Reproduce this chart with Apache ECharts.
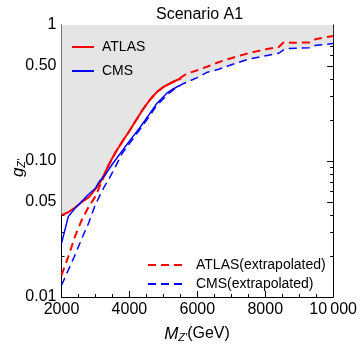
<!DOCTYPE html>
<html>
<head>
<meta charset="utf-8">
<script src="https://cdn.jsdelivr.net/npm/echarts@6/dist/echarts.min.js"></script>
<style>
  html, body { margin: 0; padding: 0; background: #fff; }
  #main { width: 360px; height: 349px; }
</style>
</head>
<body>
<div id="main"></div>
<script>
// ATLAS limit (solid)
var atlasX = [2000, 2200, 2400, 2600, 2800, 2950, 3100, 3200, 3400, 3600, 3800, 4000, 4200, 4400, 4600, 4800, 5000, 5200, 5400, 5530];
var atlasG = [0.040, 0.042, 0.0455, 0.050, 0.054, 0.060, 0.067, 0.074, 0.095, 0.117, 0.140, 0.166, 0.200, 0.240, 0.281, 0.320, 0.350, 0.372, 0.394, 0.405];
// CMS limit (solid)
var cmsX = [2000, 2200, 2400, 2550, 2800, 3000, 3100, 3300, 3500, 3800, 4100, 4300, 4500, 4600, 4800, 5100, 5300, 5480];
var cmsG = [0.0248, 0.039, 0.045, 0.049, 0.057, 0.063, 0.070, 0.080, 0.095, 0.120, 0.151, 0.175, 0.206, 0.223, 0.264, 0.315, 0.340, 0.360];
// ATLAS extrapolated (dashed)
var atlasExX = [2000, 2200, 2400, 2600, 2800, 3000, 3200, 3400, 3600, 3800, 4000, 4200, 4400, 4600, 4800, 5000, 5200, 5400, 5700, 6000, 6300, 6600, 6900, 7200, 7500, 7800, 8100, 8400, 8550, 8800, 9300, 9500, 10000];
var atlasExG = [0.0145, 0.0198, 0.028, 0.037, 0.046, 0.055, 0.072, 0.094, 0.117, 0.140, 0.166, 0.200, 0.240, 0.281, 0.320, 0.350, 0.372, 0.394, 0.440, 0.465, 0.495, 0.530, 0.560, 0.590, 0.620, 0.645, 0.670, 0.690, 0.750, 0.740, 0.745, 0.790, 0.830];
// CMS extrapolated (dashed)
var cmsExX = [2000, 2200, 2400, 2600, 2800, 3000, 3250, 3450, 3800, 4100, 4500, 4800, 5100, 5300, 5580, 6000, 6300, 6600, 6900, 7200, 7500, 7800, 8100, 8400, 8550, 8650, 9300, 9500, 10000];
var cmsExG = [0.0122, 0.0158, 0.0204, 0.027, 0.035, 0.048, 0.064, 0.078, 0.115, 0.145, 0.198, 0.255, 0.305, 0.335, 0.370, 0.410, 0.450, 0.470, 0.500, 0.530, 0.560, 0.580, 0.600, 0.620, 0.660, 0.670, 0.680, 0.710, 0.730];
// lower edge of the grey excluded region
var shadeX = [2000, 2200, 2350, 2550, 2800, 3000, 3200, 3400, 3600, 3800, 4000, 4200, 4400, 4600, 4800, 5000, 5200, 5400, 5580, 6000, 6300, 6600, 6900, 7200, 7500, 7800, 8100, 8400, 8550, 8650, 9300, 9500, 10000];
var shadeG = [0.040, 0.042, 0.044, 0.049, 0.057, 0.063, 0.075, 0.095, 0.117, 0.140, 0.166, 0.200, 0.240, 0.281, 0.320, 0.350, 0.372, 0.394, 0.370, 0.410, 0.450, 0.470, 0.500, 0.530, 0.560, 0.580, 0.600, 0.620, 0.660, 0.670, 0.680, 0.710, 0.730];

var yLabelVals = [0.01, 0.05, 0.1, 0.5, 1];
var yLabelText = ['0.01', '0.05', '0.10', '0.50', '1'];
var yMinorVals = [0.02, 0.03, 0.04, 0.06, 0.07, 0.08, 0.09, 0.2, 0.3, 0.4, 0.6, 0.7, 0.8, 0.9];

function pairs(xs, ys) {
  return xs.map(function (x, i) { return [x, ys[i]]; });
}

var font = 'Liberation Sans, Arial, sans-serif';
var myChart = echarts.init(document.getElementById('main'));

var frameLine = { show: true, lineStyle: { color: '#000', width: 1 } };

function yAx(pos, labels, ticks, len, line) {
  return {
    type: 'log', logBase: 10, min: 0.01, max: 1, position: pos,
    axisLine: line ? frameLine : { show: false },
    splitLine: { show: false },
    axisTick: { show: true, inside: true, length: len, customValues: ticks, lineStyle: { color: '#000' } },
    axisLabel: labels ? {
      show: true, customValues: yLabelVals, margin: 5, fontSize: 16, color: '#000', fontFamily: font,
      formatter: function (v) {
        for (var i = 0; i < yLabelVals.length; i++) {
          if (Math.abs(yLabelVals[i] - v) < 1e-9) return yLabelText[i];
        }
        return '';
      }
    } : { show: false }
  };
}

function xAx(pos, labels) {
  return {
    type: 'value', min: 2000, max: 10000, interval: 2000, position: pos,
    axisLine: frameLine,
    splitLine: { show: false },
    axisTick: { show: true, inside: true, length: 6, lineStyle: { color: '#000' } },
    minorTick: { show: true, splitNumber: 4, length: 3, lineStyle: { color: '#000' } },
    axisLabel: labels ? {
      show: true, margin: 5, fontSize: 16, color: '#000', fontFamily: font,
      formatter: function (v) { return v === 10000 ? '10\u2009000' : String(v); }
    } : { show: false }
  };
}

myChart.setOption({
  animation: false,
  backgroundColor: '#fff',
  title: {
    text: 'Scenario A1', left: 151, top: 2,
    textStyle: { fontSize: 16, fontWeight: 'normal', color: '#000', fontFamily: font }
  },
  grid: { left: 61.5, right: 26, top: 25, bottom: 52 },
  xAxis: [xAx('bottom', true), xAx('top', false)],
  yAxis: [
    yAx('left', true, yLabelVals, 6, true),
    yAx('left', false, yMinorVals, 3, false),
    yAx('right', false, yLabelVals, 6, true),
    yAx('right', false, yMinorVals, 3, false)
  ],
  legend: [
    {
      data: ['ATLAS', 'CMS'], orient: 'vertical', left: 66, top: 35,
      itemWidth: 22, itemHeight: 12, itemGap: 10,
      itemStyle: { opacity: 0 },
      textStyle: { fontSize: 14, color: '#000', fontFamily: font, padding: [0, 0, 0, 3] }
    },
    {
      data: ['ATLAS(extrapolated)', 'CMS(extrapolated)'], orient: 'vertical', left: 142, top: 253,
      itemWidth: 35, itemHeight: 12, itemGap: 5,
      itemStyle: { opacity: 0 },
      textStyle: { fontSize: 14, color: '#000', fontFamily: font, padding: [0, 0, 0, 8] }
    }
  ],
  graphic: [
    {
      type: 'text', x: 18, y: 168, rotation: Math.PI / 2,
      style: {
        text: '{g|g}{s|Z\u2032}', align: 'center', verticalAlign: 'middle',
        rich: {
          g: { fontSize: 17, fontStyle: 'italic', fontFamily: font, fill: '#000' },
          s: { fontSize: 11, fontStyle: 'italic', fontFamily: font, fill: '#000', padding: [8, 0, 0, 0] }
        }
      }
    },
    {
      type: 'text', x: 197, y: 334,
      style: {
        text: '{m|M}{s|Z\u2032}{t|(GeV)}', align: 'center', verticalAlign: 'middle',
        rich: {
          m: { fontSize: 17, fontStyle: 'italic', fontFamily: font, fill: '#000' },
          s: { fontSize: 11, fontStyle: 'italic', fontFamily: font, fill: '#000', padding: [8, 0, 0, 0] },
          t: { fontSize: 16, fontFamily: font, fill: '#000' }
        }
      }
    }
  ],
  series: [
    {
      name: 'excluded', type: 'line', silent: true, symbol: 'none', z: 1,
      data: pairs(shadeX, shadeG),
      lineStyle: { width: 0, opacity: 0 },
      areaStyle: { color: '#e5e5e5', origin: 'end', opacity: 1 }
    },
    {
      name: 'ATLAS(extrapolated)', type: 'line', symbol: 'none', z: 3,
      data: pairs(atlasExX, atlasExG),
      color: '#ff0000',
      lineStyle: { color: '#ff0000', width: 2, type: [8, 5] }
    },
    {
      name: 'CMS(extrapolated)', type: 'line', symbol: 'none', z: 3,
      data: pairs(cmsExX, cmsExG),
      color: '#0000ff',
      lineStyle: { color: '#0000ff', width: 1.5, type: [8, 5] }
    },
    {
      name: 'ATLAS', type: 'line', symbol: 'none', z: 4,
      data: pairs(atlasX, atlasG),
      color: '#ff0000',
      lineStyle: { color: '#ff0000', width: 2 }
    },
    {
      name: 'CMS', type: 'line', symbol: 'none', z: 4,
      data: pairs(cmsX, cmsG),
      color: '#0000ff',
      lineStyle: { color: '#0000ff', width: 1.5 }
    }
  ]
});
</script>
</body>
</html>
